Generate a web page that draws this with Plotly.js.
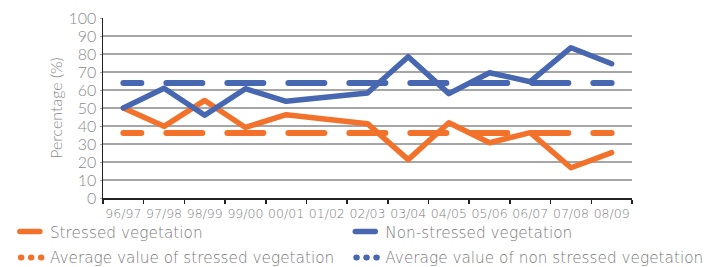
<!DOCTYPE html>
<html>
<head>
<meta charset="utf-8">
<script src="https://cdn.plot.ly/plotly-3.0.1.min.js"></script>
<style>
html,body{margin:0;padding:0;background:#fff;}
#chart{width:704px;height:267px;}
</style>
</head>
<body>
<div id="chart"></div>
<script>
const categories = ['96/97','97/98','98/99','99/00','00/01','01/02','02/03','03/04','04/05','05/06','06/07','07/08','08/09'];
const stressed = [50, 39.8, 54.2, 39.2, 46.3, null, 41.3, 21.3, 41.8, 30.7, 36.3, 16.8, 25.2];
const nonStressed = [50, 61, 46, 60.7, 53.7, null, 58.3, 78.5, 58, 69.6, 64.6, 83.5, 74.6];
const avgStressed = [36.1, 36.1, 36.1, 36.1, 36.1, 36.1, 36.1, 36.1, 36.1, 36.1, 36.1, 36.1, 36.1];
const avgNonStressed = [63.9, 63.9, 63.9, 63.9, 63.9, 63.9, 63.9, 63.9, 63.9, 63.9, 63.9, 63.9, 63.9];
const yTicks = [0,10,20,30,40,50,60,70,80,90,100];

const ORANGE = '#f2722b';
const BLUE = '#4767b1';
const FONT = 'Lato, "Open Sans", sans-serif';
const WIDEFONT = '"DejaVu Sans", sans-serif';
const avgDash = '18px,25px,36px,25px,36px,25px,36px,25px,36px,25px,36px,25px,36px,25px,36px,25px,36px,25px,36px,25px';

const traces = [
  {x: categories, y: stressed, name: 'Stressed vegetation', type: 'scatter', mode: 'lines',
   connectgaps: true, line: {color: ORANGE, width: 5.5}, legend: 'legend', legendgroup: 'a'},
  {x: categories, y: nonStressed, name: 'Non-stressed vegetation', type: 'scatter', mode: 'lines',
   connectgaps: true, line: {color: BLUE, width: 5.5}, legend: 'legend2', legendgroup: 'c'},
  {x: categories, y: avgStressed, name: 'Average value of stressed vegetation', type: 'scatter', mode: 'lines',
   line: {color: ORANGE, width: 6, dash: avgDash}, legend: 'legend', legendgroup: 'b'},
  {x: categories, y: avgNonStressed, name: 'Average value of non stressed vegetation', type: 'scatter', mode: 'lines',
   line: {color: BLUE, width: 6, dash: avgDash}, legend: 'legend2', legendgroup: 'd'}
];

const legendFont = {family: WIDEFONT, size: 15.3, color: '#7a7a7a', weight: 200};
const layout = {
  width: 704, height: 267,
  margin: {l: 103, r: 72, t: 18, b: 69, autoexpand: false},
  paper_bgcolor: '#fff', plot_bgcolor: '#fff',
  font: {family: FONT, color: '#808080'},
  showlegend: true,
  legend: {
    orientation: 'v', x: -0.176, xanchor: 'left', y: -0.095, yanchor: 'top',
    font: legendFont, traceorder: 'grouped', bgcolor: 'rgba(0,0,0,0)', tracegroupgap: 3
  },
  legend2: {
    orientation: 'v', x: 0.458, xanchor: 'left', y: -0.095, yanchor: 'top',
    font: legendFont, traceorder: 'grouped', bgcolor: 'rgba(0,0,0,0)', tracegroupgap: 3
  },
  xaxis: {
    type: 'category', range: [-0.5, 12.5], fixedrange: true,
    showgrid: false, zeroline: false,
    showline: true, linecolor: '#222', linewidth: 1.5,
    ticks: 'outside', tickson: 'boundaries', ticklen: 4, tickwidth: 1.5, tickcolor: '#222',
    tickangle: 0,
    tickfont: {family: WIDEFONT, size: 12.5, color: '#808080', weight: 200},
    ticklabelstandoff: 3
  },
  yaxis: {
    range: [0, 100], fixedrange: true,
    tickvals: yTicks, ticktext: yTicks.map(String),
    showgrid: true, gridcolor: '#a6a6a6', gridwidth: 1.2,
    zeroline: false,
    showline: true, linecolor: '#222', linewidth: 1.5,
    ticks: 'outside', ticklen: 2, tickcolor: '#a6a6a6',
    tickfont: {family: FONT, size: 16, color: '#8a8a8a', weight: 300},
    title: {text: 'Percentage (%)', font: {family: FONT, size: 16, color: '#8a8a8a', weight: 300}, standoff: 2}
  }
};

Plotly.newPlot('chart', traces, layout, {displayModeBar: false, staticPlot: true}).then(function(gd){
  gd.querySelectorAll('.scatterlayer path.js-line').forEach(function(p){
    p.style.strokeLinecap = 'round';
    p.style.strokeLinejoin = 'round';
  });
  gd.querySelectorAll('.infolayer .traces').forEach(function(t){
    const name = t.textContent || '';
    t.querySelectorAll('path.js-line').forEach(function(p){
      p.style.strokeLinecap = 'round';
      if (name.indexOf('Average') === 0) {
        p.setAttribute('d', 'M11,0h21');
        p.style.strokeDasharray = '0.5px,9.5px';
      } else {
        p.setAttribute('d', 'M10,0h20');
      }
    });
  });
});
</script>
</body>
</html>
